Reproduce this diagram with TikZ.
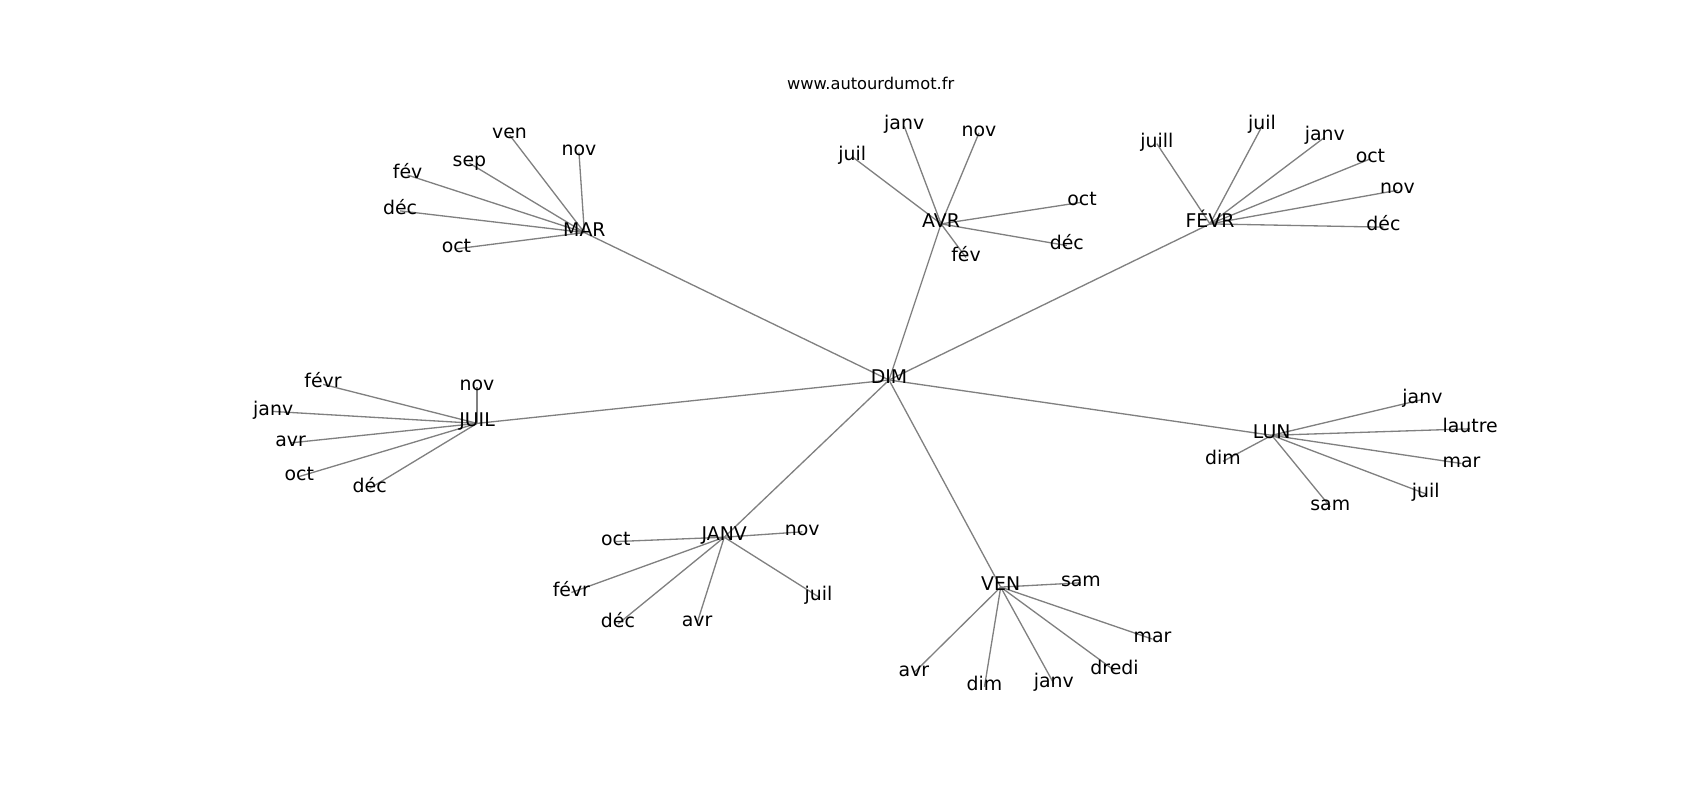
\documentclass[tikz,border=0pt]{standalone}
\usepackage{fontspec}
\setmainfont{DejaVu Sans}
\usetikzlibrary{backgrounds}
\tikzset{
  lbl/.style={inner sep=0pt, text height=0.76em, text depth=0.24em, font=\fontsize{13.6}{16}\selectfont, text=black},
  edge/.style={draw=gray, line width=0.95pt},
  ttl/.style={inner sep=0pt, text height=0.76em, text depth=0.24em, font=\fontsize{11.7}{14}\selectfont}
}
\begin{document}
\begin{tikzpicture}[x=0.78061pt, y=-0.78061pt]
\useasboundingbox (0,-3.5) rectangle (1568,734.5);
\node[ttl] (title) at (803,76) {www.autourdumot.fr};
% hubs
\node[lbl] (DIM) at (820,347) {DIM};
\node[lbl] (MAR) at (539,211) {MAR};
\node[lbl] (AVR) at (868,203) {AVR};
\node[lbl] (FEVR) at (1116,203) {FÉVR};
\node[lbl] (JUIL) at (440,387) {JUIL};
\node[lbl] (LUN) at (1173,398) {LUN};
\node[lbl] (JANV) at (668,492) {JANV};
\node[lbl] (VEN) at (923,538) {VEN};
% MAR leaves
\node[lbl] (m1) at (470,121) {ven};
\node[lbl] (m2) at (534,137) {nov};
\node[lbl] (m3) at (433,147) {sep};
\node[lbl] (m4) at (376,158) {fév};
\node[lbl] (m5) at (369,191) {déc};
\node[lbl] (m6) at (421,226) {oct};
% AVR leaves
\node[lbl] (a1) at (834,113) {janv};
\node[lbl] (a2) at (903,119) {nov};
\node[lbl] (a3) at (786,141) {juil};
\node[lbl] (a4) at (998,183) {oct};
\node[lbl] (a5) at (984,223) {déc};
\node[lbl] (a6) at (891,234) {fév};
% FEVR leaves
\node[lbl] (f1) at (1067,129) {juill};
\node[lbl] (f2) at (1164,113) {juil};
\node[lbl] (f3) at (1222,123) {janv};
\node[lbl] (f4) at (1264,143) {oct};
\node[lbl] (f5) at (1289,172) {nov};
\node[lbl] (f6) at (1276,206) {déc};
% JUIL leaves
\node[lbl] (j1) at (298,351) {févr};
\node[lbl] (j2) at (440,353) {nov};
\node[lbl] (j3) at (252,376) {janv};
\node[lbl] (j4) at (268,405) {avr};
\node[lbl] (j5) at (276,436) {oct};
\node[lbl] (j6) at (341,447) {déc};
% LUN leaves
\node[lbl] (l1) at (1312,365) {janv};
\node[lbl] (l2) at (1356,392) {lautre};
\node[lbl] (l3) at (1348,424) {mar};
\node[lbl] (l4) at (1315,452) {juil};
\node[lbl] (l5) at (1227,464) {sam};
\node[lbl] (l6) at (1128,422) {dim};
% JANV leaves
\node[lbl] (n1) at (568,496) {oct};
\node[lbl] (n2) at (740,487) {nov};
\node[lbl] (n3) at (527,543) {févr};
\node[lbl] (n4) at (755,547) {juil};
\node[lbl] (n5) at (570,572) {déc};
\node[lbl] (n6) at (643,571) {avr};
% VEN leaves
\node[lbl] (v1) at (997,534) {sam};
\node[lbl] (v2) at (1063,586) {mar};
\node[lbl] (v3) at (1028,615) {dredi};
\node[lbl] (v4) at (972,627) {janv};
\node[lbl] (v5) at (908,630) {dim};
\node[lbl] (v6) at (843,617) {avr};
\begin{scope}[on background layer]
\foreach \h in {MAR,AVR,FEVR,JUIL,LUN,JANV,VEN} \draw[edge] (DIM.center) -- (\h.center);
\foreach \l in {m1,m2,m3,m4,m5,m6} \draw[edge] (MAR.center) -- (\l.center);
\foreach \l in {a1,a2,a3,a4,a5,a6} \draw[edge] (AVR.center) -- (\l.center);
\foreach \l in {f1,f2,f3,f4,f5,f6} \draw[edge] (FEVR.center) -- (\l.center);
\foreach \l in {j1,j2,j3,j4,j5,j6} \draw[edge] (JUIL.center) -- (\l.center);
\foreach \l in {l1,l2,l3,l4,l5,l6} \draw[edge] (LUN.center) -- (\l.center);
\foreach \l in {n1,n2,n3,n4,n5,n6} \draw[edge] (JANV.center) -- (\l.center);
\foreach \l in {v1,v2,v3,v4,v5,v6} \draw[edge] (VEN.center) -- (\l.center);
\end{scope}
\end{tikzpicture}
\end{document}
